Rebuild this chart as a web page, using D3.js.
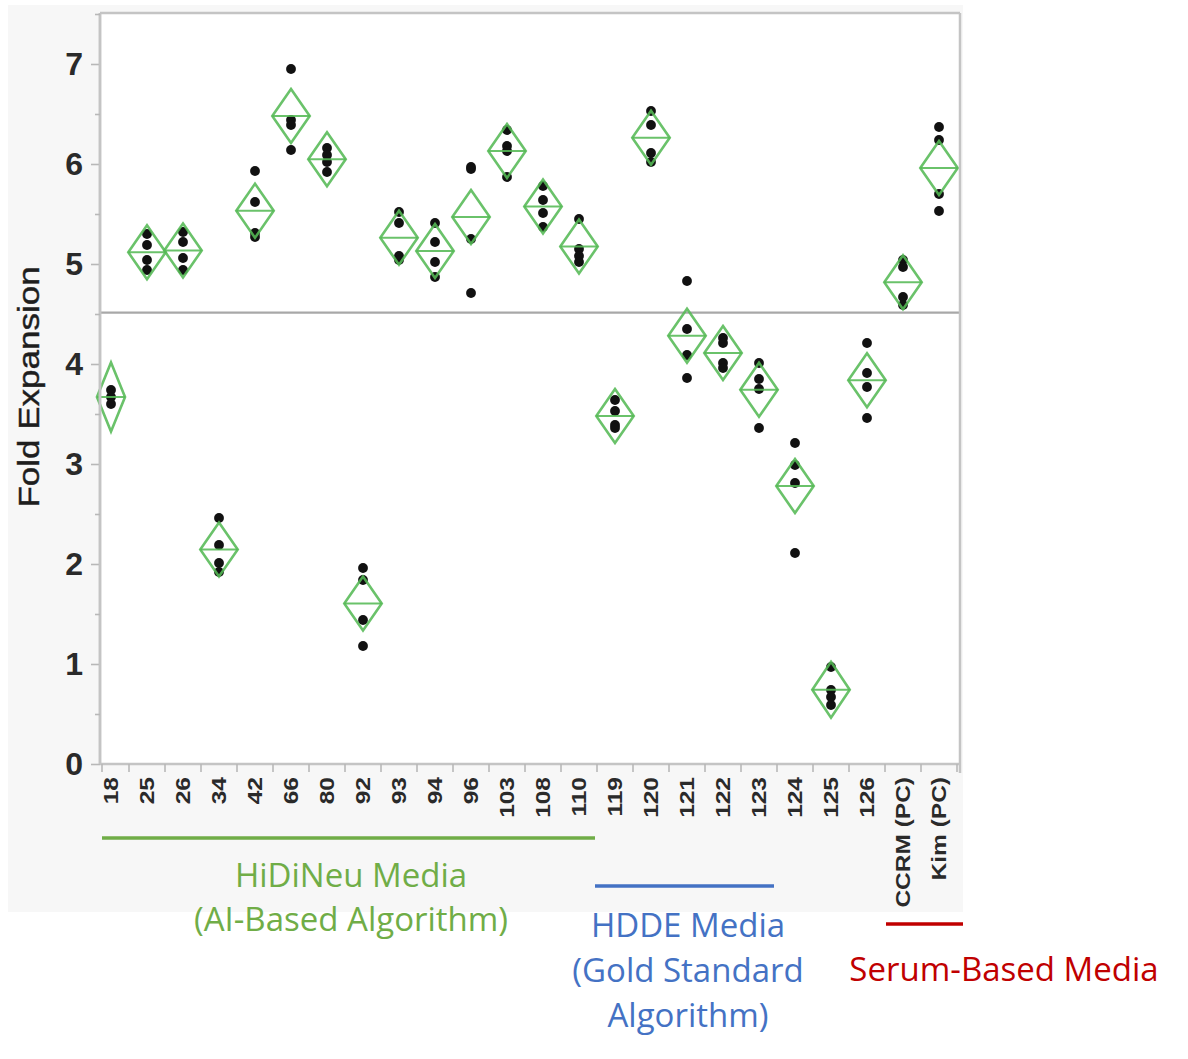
<!DOCTYPE html>
<html>
<head>
<meta charset="utf-8">
<script src="https://cdn.jsdelivr.net/npm/d3@7"></script>
<style>
  html, body { margin: 0; padding: 0; background: #ffffff; }
  svg { display: block; }
</style>
</head>
<body>
<svg id="chart" width="1188" height="1059"></svg>
<script>
// ---------------- data ----------------
const categories = ["18","25","26","34","42","66","80","92","93","94","96","103","108","110",
                    "119","120","121","122","123","124","125","126","CCRM (PC)","Kim (PC)"];
// individual fold-expansion observations per category
const foldValues = [
  [3.74, 3.67, 3.60],
  [5.30, 5.19, 5.04, 4.94],
  [5.32, 5.22, 5.06, 4.94],
  [2.46, 2.19, 2.01, 1.92],
  [5.93, 5.62, 5.31, 5.27],
  [6.95, 6.44, 6.39, 6.14],
  [6.16, 6.09, 6.02, 5.92],
  [1.96, 1.84, 1.44, 1.18],
  [5.52, 5.41, 5.08, 5.04],
  [5.41, 5.22, 5.02, 4.87],
  [5.97, 5.95, 5.25, 4.71],
  [6.34, 6.18, 6.13, 5.87],
  [5.78, 5.64, 5.51, 5.37],
  [5.45, 5.15, 5.08, 5.02],
  [3.64, 3.53, 3.39, 3.36],
  [6.53, 6.39, 6.11, 6.02],
  [4.83, 4.35, 4.09, 3.86],
  [4.26, 4.21, 4.01, 3.96],
  [4.01, 3.85, 3.75, 3.36],
  [3.21, 2.99, 2.81, 2.11],
  [0.97, 0.74, 0.67, 0.59],
  [4.21, 3.91, 3.77, 3.46],
  [5.04, 4.97, 4.67, 4.59],
  [6.37, 6.24, 5.70, 5.53]
];
// 95% CI half-width of each mean (means diamond height / 2)
const ciHalfWidth = [0.345,0.27,0.27,0.27,0.27,0.27,0.27,0.27,0.27,0.27,0.27,0.27,
                     0.27,0.27,0.27,0.27,0.27,0.27,0.27,0.27,0.28,0.27,0.27,0.27];
const yMajorTicks = [0,1,2,3,4,5,6,7];
const yMinorTicks = [0.5,1.5,2.5,3.5,4.5,5.5,6.5,7.5];
const yTitle = "Fold Expansion";
const groups = [
  { first: "18",  last: "110",       color: "#70ad47", lines: ["HiDiNeu Media", "(AI-Based Algorithm)"] },
  { first: "119", last: "123",       color: "#4472c4", lines: ["HDDE Media", "(Gold Standard", "Algorithm)"] },
  { first: "CCRM (PC)", last: "Kim (PC)", color: "#c00000", lines: ["Serum-Based Media"] }
];

// ---------------- layout ----------------
const svg = d3.select("#chart");
const plot = { left: 100, right: 960, top: 13, bottom: 764 };

svg.append("rect").attr("x", 8).attr("y", 5).attr("width", 955).attr("height", 907)
   .attr("fill", "#f7f7f7");
svg.append("rect").attr("x", plot.left).attr("y", plot.top)
   .attr("width", plot.right - plot.left).attr("height", plot.bottom - plot.top)
   .attr("fill", "#ffffff");

const y = d3.scaleLinear().domain([0, 7.51]).range([plot.bottom, plot.top]);
const x = d3.scalePoint().domain(categories).range([111, 939]);
const step = x.step();

const frameColor = "#c4c4c4";

// grand mean line
const allValues = foldValues.flat();
const grandMean = d3.mean(allValues);
svg.append("line")
   .attr("x1", plot.left).attr("x2", plot.right)
   .attr("y1", y(grandMean) + 1.5).attr("y2", y(grandMean) + 1.5)
   .attr("stroke", "#a8a8a8").attr("stroke-width", 2.2);

// points
const stats = categories.map((c, i) => ({
  cat: c, vals: foldValues[i], n: foldValues[i].length,
  mean: d3.mean(foldValues[i]), half: ciHalfWidth[i]
}));

const ptG = svg.append("g");
stats.forEach(s => {
  ptG.selectAll(null).data(s.vals).enter().append("circle")
     .attr("cx", x(s.cat)).attr("cy", d => y(d)).attr("r", 4.9)
     .attr("fill", "#111");
});

// means diamonds
const maxN = d3.max(stats, s => s.n);
const dG = svg.append("g");
const green = "#55b955";
stats.forEach(s => {
  const cx = x(s.cat);
  const hw = (step * 1.04) / 2 * (s.n / maxN);
  const top = y(s.mean + s.half), bot = y(s.mean - s.half), mid = y(s.mean);
  dG.append("path")
    .attr("d", `M${cx},${top} L${cx + hw},${mid} L${cx},${bot} L${cx - hw},${mid} Z`)
    .attr("fill", "none").attr("stroke", green).attr("stroke-width", 2.6)
    .attr("stroke-opacity", 0.88).attr("stroke-linejoin", "miter");
  dG.append("line")
    .attr("x1", cx - hw).attr("x2", cx + hw).attr("y1", mid).attr("y2", mid)
    .attr("stroke", green).attr("stroke-width", 2).attr("stroke-opacity", 0.88);
});

// frame: top and right
svg.append("line").attr("x1", plot.left).attr("x2", plot.right)
   .attr("y1", plot.top).attr("y2", plot.top)
   .attr("stroke", frameColor).attr("stroke-width", 2.5);
svg.append("line").attr("x1", plot.right).attr("x2", plot.right)
   .attr("y1", plot.top).attr("y2", plot.bottom + 9)
   .attr("stroke", frameColor).attr("stroke-width", 2.5);

// y axis
const yAxisMajor = d3.axisLeft(y).tickValues(yMajorTicks).tickSize(9).tickPadding(8)
                     .tickFormat(d3.format("d"));
const yAxisMinor = d3.axisLeft(y).tickValues(yMinorTicks).tickSize(5).tickFormat("");
const ya = svg.append("g").attr("transform", `translate(${plot.left},0)`).call(yAxisMajor);
const ym = svg.append("g").attr("transform", `translate(${plot.left},0)`).call(yAxisMinor);
[ya, ym].forEach(g => {
  g.select(".domain").attr("stroke", frameColor).attr("stroke-width", 2.5)
   .attr("d", `M0,${plot.top}V${plot.bottom}`);
  g.selectAll(".tick line").attr("stroke", "#b8b8b8").attr("stroke-width", 1.6);
});
ya.selectAll(".tick text")
  .attr("font-family", "'Liberation Sans', Arial, sans-serif")
  .attr("font-weight", "bold").attr("font-size", 32).attr("fill", "#2a2a2a");

// x axis
const xAxis = d3.axisBottom(x).tickSize(0).tickPadding(0);
const xa = svg.append("g").attr("transform", `translate(0,${plot.bottom})`).call(xAxis);
xa.select(".domain").attr("stroke", frameColor).attr("stroke-width", 2.5)
  .attr("d", `M${plot.left},0H${plot.right}`);
xa.selectAll(".tick text")
  .attr("font-family", "'Liberation Sans', Arial, sans-serif")
  .attr("font-weight", "bold").attr("font-size", 24.5).attr("fill", "#2a2a2a")
  .attr("text-anchor", "end").attr("dy", null).attr("y", 0)
  .attr("dominant-baseline", "central")
  .attr("transform", "translate(0,13) rotate(-90) scale(1,0.8)");
// boundary tick marks
svg.append("g").selectAll("line")
   .data([categories[0]].concat(categories))
   .enter().append("line")
   .attr("x1", (d, i) => i === 0 ? plot.left + 2 : x(d) + step / 2)
   .attr("x2", (d, i) => i === 0 ? plot.left + 2 : x(d) + step / 2)
   .attr("y1", plot.bottom).attr("y2", plot.bottom + 8)
   .attr("stroke", "#b8b8b8").attr("stroke-width", 1.6);

// y title
svg.append("text")
   .attr("transform", `translate(29,387) rotate(-90) scale(1,0.82)`)
   .attr("text-anchor", "middle").attr("dominant-baseline", "central")
   .attr("font-family", "'Liberation Sans', Arial, sans-serif")
   .attr("font-size", 35).attr("fill", "#1e1e1e").attr("stroke", "#1e1e1e")
   .attr("stroke-width", 0.5).text(yTitle);

// group annotations
const annot = [
  { x1: x(groups[0].first) - 9,  x2: x(groups[0].last) + 16, ly: 838, tx: 351, ty: [874, 918] },
  { x1: x(groups[1].first) - 20, x2: x(groups[1].last) + 15, ly: 886, tx: 688, ty: [924, 969, 1014] },
  { x1: x(groups[2].first) - 17, x2: x(groups[2].last) + 24, ly: 924, tx: 1004, ty: [968] }
];
groups.forEach((g, i) => {
  const a = annot[i];
  svg.append("line").attr("x1", a.x1).attr("x2", a.x2).attr("y1", a.ly).attr("y2", a.ly)
     .attr("stroke", g.color).attr("stroke-width", 3.5);
  g.lines.forEach((t, j) => {
    svg.append("text").attr("x", a.tx).attr("y", a.ty[j])
       .attr("text-anchor", "middle").attr("dominant-baseline", "central")
       .attr("font-family", "'Open Sans', 'Noto Sans', sans-serif")
       .attr("font-size", 33).attr("fill", g.color).text(t);
  });
});
</script>
</body>
</html>
